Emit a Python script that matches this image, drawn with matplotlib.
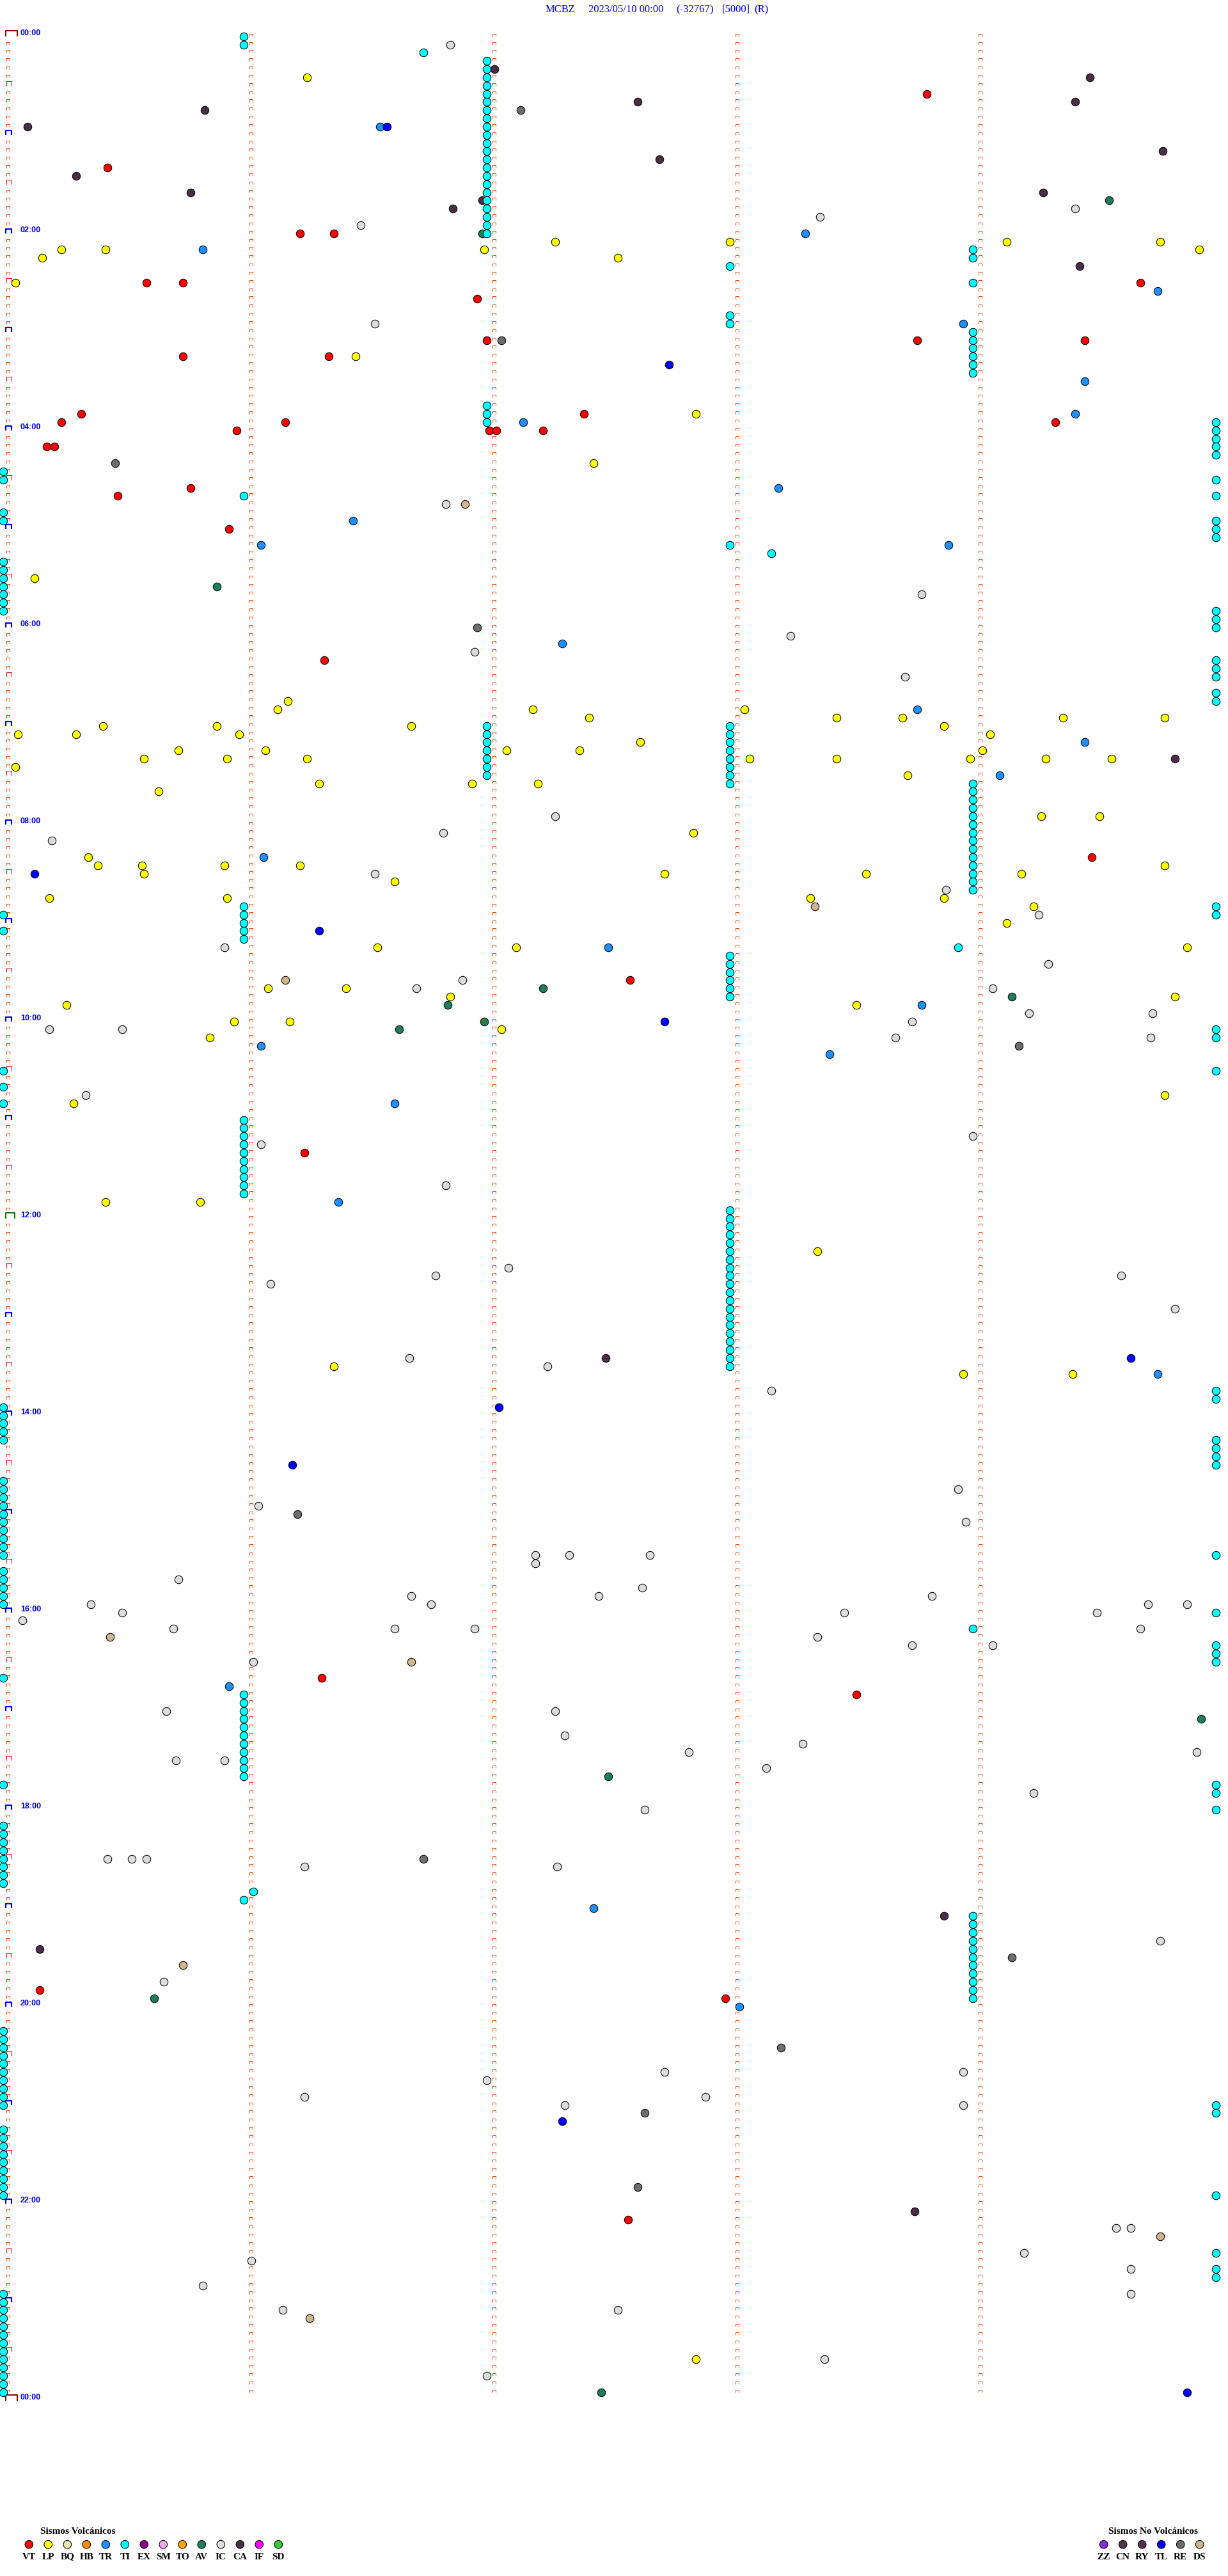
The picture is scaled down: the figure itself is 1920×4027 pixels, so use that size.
import matplotlib.pyplot as plt
from matplotlib.path import Path
import numpy as np

# ---------------- datos ----------------
cabecera = ['MCBZ', '2023/05/10 00:00', '(-32767)', '[5000]', '(R)']

min_por_fila = 5          # cada linea del tambor = 5 minutos
n_filas = 288             # 24 h

# tiempos de cada evento en minutos desde las 00:00
VT = [38.80, 80.43, 121.22, 121.36, 150.59, 150.74, 154.68, 161.95, 186.99, 188.76,
      189.45, 195.74, 196.34, 230.32, 232.39, 235.24, 236.16, 239.33, 240.96, 242.00,
      242.03, 242.22, 250.18, 250.21, 275.77, 280.47, 300.93, 381.32, 504.48, 577.58,
      681.24, 1001.31, 1013.51, 1190.15, 1197.97, 1332.57]
LP = [26.25, 127.27, 127.99, 129.13, 129.76, 130.24, 130.42, 131.98, 134.92, 135.16,
      137.53, 150.05, 196.45, 232.85, 262.43, 330.13, 406.17, 411.13, 412.18, 413.05,
      417.41, 418.43, 418.70, 419.36, 419.78, 420.41, 420.88, 421.68, 423.87, 425.06,
      425.30, 425.97, 429.06, 432.62, 435.72, 436.08, 437.07, 437.37, 439.03, 440.58,
      440.92, 441.25, 443.07, 443.43, 443.98, 444.29, 444.56, 445.05, 453.72, 456.30,
      456.93, 457.20, 460.64, 479.27, 479.51, 487.84, 500.35, 505.39, 505.57, 505.91,
      506.22, 509.78, 510.58, 512.72, 513.55, 514.19, 516.61, 525.19, 525.92, 528.32,
      528.87, 534.24, 544.13, 556.54, 557.11, 559.87, 581.09, 581.41, 586.84, 589.82,
      590.26, 593.51, 600.95, 601.18, 607.05, 610.85, 649.78, 650.29, 710.42, 710.81,
      743.35, 811.36, 818.95, 819.40, 1417.85]
TR = [56.55, 123.30, 130.82, 159.75, 178.95, 214.45, 234.41, 237.14, 278.19, 296.44,
      311.06, 313.89, 372.30, 413.76, 434.45, 454.10, 501.07, 557.49, 593.78, 616.06,
      623.40, 651.61, 711.38, 819.75, 1005.93, 1142.43, 1203.03]
TI = [0.99, 5.99, 11.73,
      16.99, 21.99, 26.99, 31.99, 36.99, 41.99, 46.99, 51.99, 56.99, 61.99, 66.99,
      71.99, 76.99, 81.99, 86.99, 91.99, 96.99, 101.99, 106.99, 111.99, 116.99, 121.99,
      133.99, 138.99, 142.99, 153.99, 172.99, 177.99,
      183.99, 188.99, 193.99, 198.99, 203.99, 208.99,
      226.99, 231.99, 236.99, 239.99, 244.99, 249.99, 254.99, 259.99,
      265.0, 270.0, 274.99, 280.99, 284.99, 290.0, 295.0, 299.99, 304.99, 309.99,
      312.99, 318.16, 320.0, 325.0, 330.0, 335.0, 340.0, 345.0, 350.0,
      354.99, 359.99, 364.99, 384.99, 389.99, 394.99, 404.99, 409.99,
      421.99, 426.99, 431.99, 436.99, 441.99, 446.99, 451.99,
      422.99, 427.99, 432.99, 437.99, 442.99, 447.99, 452.99, 457.99,
      458.99, 463.99, 468.99, 473.99, 478.99, 483.99, 488.99, 493.99, 498.99, 503.99,
      508.99, 513.99, 518.99, 523.99,
      530.99, 534.99, 535.0, 535.99, 539.99, 540.99, 545.0, 545.99, 550.99, 558.93,
      562.99, 567.99, 572.99, 577.99, 582.99, 587.99,
      609.99, 614.99, 630.0, 634.99, 640.0, 650.0,
      660.99, 665.99, 670.99, 675.99, 680.99, 685.99, 690.99, 695.99, 700.99, 705.99,
      717.99, 722.99, 727.99, 732.99, 737.99, 742.99, 747.99, 752.99, 757.99, 762.99,
      767.99, 772.99, 777.99, 782.99, 787.99, 792.99, 797.99, 802.99, 807.99, 812.99,
      829.99, 834.99, 835.0, 840.0, 845.0, 850.0, 855.0, 859.99, 864.99, 869.99, 874.99,
      880.0, 885.0, 890.0, 895.0, 900.0, 905.0, 910.0, 915.0, 920.0, 925.0, 929.99,
      935.0, 940.0, 945.0, 950.0, 955.0, 964.99, 973.99, 984.99, 989.99, 994.99, 1000.0,
      1010.99, 1015.99, 1020.99, 1025.99, 1030.99, 1035.99, 1040.99, 1045.99, 1050.99,
      1055.99, 1060.99,
      1065.0, 1069.99, 1074.99, 1084.99, 1090.0, 1095.0, 1100.0, 1105.0, 1110.0, 1115.0,
      1120.0, 1125.0, 1131.03, 1135.99,
      1148.99, 1153.99, 1158.99, 1163.99, 1168.99, 1173.99, 1178.99, 1183.99, 1188.99,
      1193.99, 1198.99,
      1215.0, 1220.0, 1225.0, 1230.0, 1235.0, 1240.0, 1245.0, 1250.0, 1255.0, 1260.0,
      1264.99, 1269.99, 1275.0, 1280.0, 1285.0, 1290.0, 1295.0, 1300.0, 1305.0, 1310.0,
      1315.0, 1319.99, 1354.99, 1364.99, 1369.99,
      1375.0, 1380.0, 1385.0, 1390.0, 1395.0, 1400.0, 1405.0, 1410.0, 1415.0, 1420.0,
      1425.0, 1430.0, 1435.0]
AV = [104.55, 121.97, 335.88, 582.22, 589.15, 591.83, 601.98, 606.63, 1029.93, 1062.49,
      1195.62, 1437.46]
IC = [6.84, 109.41, 113.36, 116.47, 176.53, 286.82, 343.78, 368.24, 376.94, 393.71,
      477.27, 486.81, 490.20, 511.53, 523.88, 539.26, 555.91, 569.30, 576.89, 581.70,
      584.07, 599.22, 599.73, 603.74, 605.19, 605.49, 613.67, 614.72, 645.34, 673.99,
      676.06, 701.82, 752.08, 756.78, 759.60, 761.10, 779.82, 806.67, 812.24, 828.16,
      888.93, 896.05, 908.96, 927.19, 927.33, 927.66, 932.19, 940.72, 947.63, 951.68,
      952.45, 953.82, 955.36, 956.76, 959.71, 959.87, 960.49, 963.46, 964.50, 965.08,
      970.70, 971.61, 971.94, 974.68, 978.35, 983.74, 984.07, 991.03, 1020.67, 1022.27,
      1037.31, 1043.29, 1047.82, 1049.91, 1050.71, 1050.91, 1058.14, 1074.24, 1082.64,
      1110.43, 1110.53, 1110.59, 1116.24, 1117.28, 1164.76, 1185.66, 1242.72, 1243.95,
      1246.99, 1256.24, 1257.89, 1262.31, 1263.95, 1339.58, 1339.64, 1354.20, 1356.02,
      1364.64, 1370.82, 1379.64, 1386.15, 1387.53, 1418.38, 1426.99]
CA = [22.02, 29.47, 42.61, 44.41, 45.83, 55.10, 74.77, 77.70, 85.30, 95.77, 99.28,
      101.97, 106.85, 144.43, 444.82, 807.48, 1148.87, 1165.15, 1328.75]
TL = [56.58, 202.74, 510.13, 546.30, 602.72, 809.64, 837.04, 871.19, 1272.30, 1439.87]
RE = [47.13, 187.05, 260.46, 361.95, 619.18, 901.21, 1111.73, 1174.15, 1228.20,
      1267.64, 1312.61]
DS = [286.90, 533.34, 576.16, 975.44, 991.68, 1175.74, 1344.76, 1391.26]

# leyendas
volcanicos = ['VT', 'LP', 'BQ', 'HB', 'TR', 'TI', 'EX', 'SM', 'TO', 'AV', 'IC', 'CA', 'IF', 'SD']
col_volc = ['#FF0000', '#FFFF00', '#EEE3A8', '#FF8C00', '#1E90FF', '#00FFFF', '#8B008B',
            '#EEAAEE', '#FFA500', '#1E7D5E', '#DCDCDC', '#4B2D4B', '#FF00FF', '#32CD32']
no_volcanicos = ['ZZ', 'CN', 'RY', 'TL', 'RE', 'DS']
col_novolc = ['#8A2BE2', '#4F3552', '#5A2D5A', '#0000FF', '#6E6E6E', '#D2B48C']

colores = dict(zip(volcanicos + no_volcanicos, col_volc + col_novolc))
eventos = [('IC', IC), ('LP', LP), ('VT', VT), ('TR', TR), ('AV', AV),
           ('CA', CA), ('RE', RE), ('DS', DS), ('TL', TL), ('TI', TI)]

# ---------------- figura ----------------
W, H = 1920, 4027
fig = plt.figure(figsize=(W / 100, H / 100), dpi=100)
ax = fig.add_axes([0, 0, 1, 1])
ax.axis('off')

px_min = 380.0      # pixeles por minuto
px_fila = 12.833    # pixeles por linea
x0, y0 = 5.0, 56.7  # origen de los circulos
ax.set_xlim(-x0 / px_min, (W - x0) / px_min)
ax.set_ylim((H - y0) / px_fila, -y0 / px_fila)


def corchete(w, h):
    verts = [(0, 0), (0, h), (w, h), (w, 0)]
    return Path(verts, [Path.MOVETO, Path.LINETO, Path.LINETO, Path.LINETO])


def marcas(xs, ks, w, h, color, lw):
    ms = 2 * max(w, h) * 0.72
    ax.plot(xs, ks, ls='none', marker=corchete(w, h), ms=ms, mfc='none',
            mec=color, mew=lw * 0.72, zorder=2)


dx = 5.0 / px_min   # las marcas quedan 5 px a la derecha
filas = np.arange(n_filas + 1)
# marcas de minuto en columnas 1..4
for c in range(1, 5):
    marcas(np.full(n_filas, c + dx), filas[:-1], 4.5, 4.5, '#FF4500', 1)
# columna 0
horas = filas[filas % 12 == 0]
medias = filas[filas % 12 == 6]
resto = filas[(filas % 6 != 0)]
marcas(np.full(len(resto), dx), resto, 4.5, 4.5, '#FF4500', 1)
marcas(np.full(len(medias), dx), medias, 7.7, 7.5, '#FF0000', 1)
hh = horas[(horas != 0) & (horas != 144) & (horas != n_filas)]
marcas(np.full(len(hh), dx - 0.7 / px_min), hh, 9.3, 6.7, '#0000FF', 2.2)
marcas([dx - 0.7 / px_min] * 2, [0, n_filas], 18, 9, '#8B0000', 2)
marcas([dx - 0.7 / px_min], [144], 14, 9, '#008000', 2)

# etiquetas horarias
for k in filas[filas % 24 == 0]:
    hora = (k * min_por_fila // 60) % 24
    ax.text((32 - x0) / px_min, k - 5 / px_fila, '%02d:00' % hora, color='#0000FF',
            fontsize=9, fontweight='bold', family='Liberation Sans',
            ha='left', va='center')

# eventos
for cod, tiempos in eventos:
    t = np.asarray(tiempos)
    k = np.floor(t / min_por_fila)
    m = t - k * min_por_fila
    ax.scatter(m, k, s=80, c=colores[cod], edgecolors='black', linewidths=0.75, zorder=3)

# cabecera
xs_cab = [853, 920, 1057, 1129, 1179]
for xp, txt in zip(xs_cab, cabecera):
    fig.text(xp / W, 1 - 15 / H, txt, color='#0000FF', fontsize=12,
             family='Liberation Serif', ha='left', va='center')

# leyendas
lg = fig.add_axes([0, 0, 1, 1], facecolor='none')
lg.axis('off')
lg.set_xlim(0, W)
lg.set_ylim(H, 0)

lg.text(63, 3957, 'Sismos Volcánicos', fontsize=11, fontweight='bold',
        family='Liberation Serif', ha='left', va='center')
xv = 45.3 + 30 * np.arange(len(volcanicos))
lg.scatter(xv, np.full(len(xv), 3977.7), s=82, c=col_volc, edgecolors='black', linewidths=0.75)
for x, cod in zip(xv, volcanicos):
    lg.text(x, 3997, cod, fontsize=11, fontweight='bold', family='Liberation Serif',
            ha='center', va='center')

lg.text(1733, 3957, 'Sismos No Volcánicos', fontsize=11, fontweight='bold',
        family='Liberation Serif', ha='left', va='center')
xn = 1725.7 + 30 * np.arange(len(no_volcanicos))
lg.scatter(xn, np.full(len(xn), 3977.7), s=82, c=col_novolc, edgecolors='black', linewidths=0.75)
for x, cod in zip(xn, no_volcanicos):
    lg.text(x, 3997, cod, fontsize=11, fontweight='bold', family='Liberation Serif',
            ha='center', va='center')

fig.savefig('out.png', dpi=100)
